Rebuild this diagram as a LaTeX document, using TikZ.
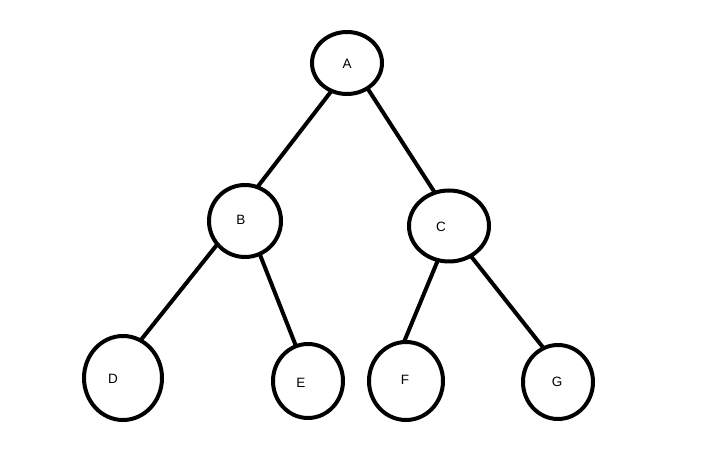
\documentclass[tikz,border=0pt]{standalone}
\usepackage{fontspec}
\setmainfont{Liberation Sans}
\usetikzlibrary{shapes.geometric}
\begin{document}
\begin{tikzpicture}[x=1pt,y=-1pt,
  vert/.style={ellipse,draw,line width=4pt,inner sep=0pt,outer sep=0pt},
  lbl/.style={inner sep=0pt,font=\fontsize{13.5}{15}\selectfont},
  edge/.style={line width=4pt}]
\useasboundingbox[fill=white] (0,0) rectangle (716,470);
\node[vert,minimum width=70pt,minimum height=62pt] (A) at (347,63) {};
\node[vert,minimum width=72pt,minimum height=72pt] (B) at (245,221) {};
\node[vert,minimum width=80pt,minimum height=71pt] (C) at (449,226) {};
\node[vert,minimum width=78pt,minimum height=84pt] (D) at (123,378) {};
\node[vert,minimum width=70pt,minimum height=74pt] (E) at (308,381) {};
\node[vert,minimum width=74pt,minimum height=78pt] (F) at (406,381) {};
\node[vert,minimum width=70pt,minimum height=74pt] (G) at (558,382) {};
\node[lbl] (tA) at (347,64) {A};
\node[lbl] (tB) at (241,220) {B};
\node[lbl] (tC) at (441,227) {C};
\node[lbl] (tD) at (113,379) {D};
\node[lbl] (tE) at (301,383) {E};
\node[lbl] (tF) at (405,380) {F};
\node[lbl] (tG) at (557,382) {G};
\draw[edge] (A.241) -- (B.70);
\draw[edge] (A.309) -- (C.113);
\draw[edge] (B.220) -- (D.65);
\draw[edge] (B.294) -- (E.109);
\draw[edge] (C.252) -- (F.93);
\draw[edge] (C.306) -- (G.113);
\end{tikzpicture}
\end{document}
